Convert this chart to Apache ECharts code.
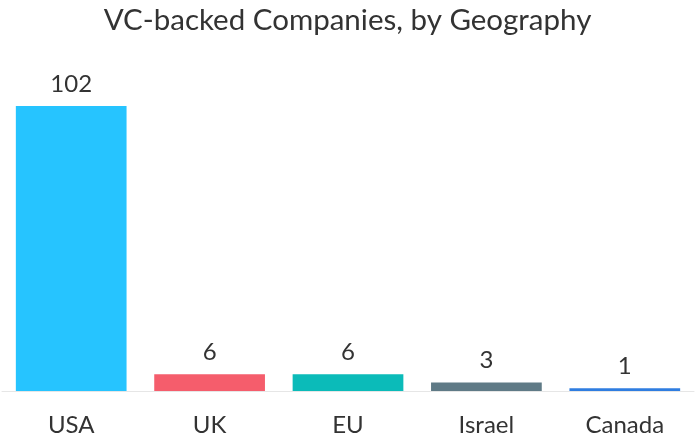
<!DOCTYPE html>
<html><head><meta charset="utf-8">
<script src="https://cdn.jsdelivr.net/npm/echarts@6/dist/echarts.min.js"></script>
<style>html,body{margin:0;padding:0;background:#fff}#c{width:695px;height:434px}</style>
</head><body><div id="c"></div>
<script>
const categories = ['USA', 'UK', 'EU', 'Israel', 'Canada'];
const values = [102, 6, 6, 3, 1];
const colors = ['#26c4ff', '#f55d6c', '#0bbbb9', '#5f7a86', '#2f7de0'];
const chart = echarts.init(document.getElementById('c'));
chart.setOption({
  animation: false,
  title: { text: 'VC-backed Companies, by Geography', left: 'center', top: 0,
    textStyle: { fontFamily: 'Lato', fontSize: 29.5, fontWeight: 'normal', color: '#333' } },
  grid: { left: 2, right: 1, top: 106, bottom: 43, containLabel: false, outerBoundsMode: 'none' },
  xAxis: { type: 'category', data: categories,
    axisLine: { lineStyle: { color: '#e6e6e6', width: 1 } },
    axisTick: { show: false },
    axisLabel: { fontFamily: 'Lato', fontSize: 24, color: '#333', margin: 22 } },
  yAxis: { type: 'value', min: 0, max: 102, show: false, splitLine: { show: false } },
  series: [{ type: 'bar', barCategoryGap: '20%',
    data: values.map((v, i) => ({ value: v, itemStyle: { color: colors[i] } })),
    label: { show: true, position: 'top', distance: 10, fontFamily: 'Lato', fontSize: 24, color: '#333' } }]
});
</script></body></html>
